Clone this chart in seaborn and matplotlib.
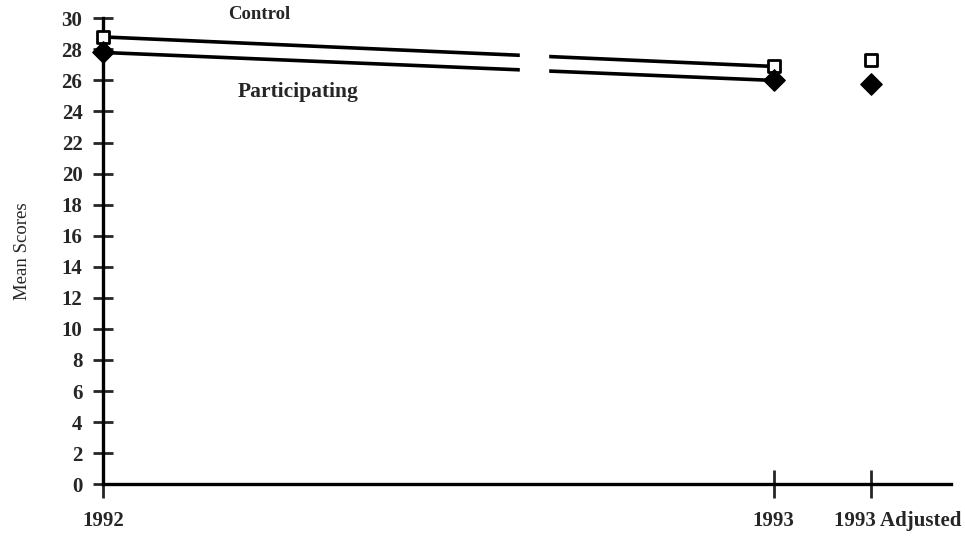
import seaborn as sns
import matplotlib.pyplot as plt
import matplotlib.transforms as mtransforms
import pandas as pd

years = ["1992", "1993", "1993 Adjusted"]
control = [28.8, 26.9, 27.3]
participating = [27.8, 26.0, 25.8]

# horizontal placement of the three time points (not evenly spaced in original)
xpos = [0, 1, 1.145]

df = pd.DataFrame({
    "x": xpos * 2,
    "score": control + participating,
    "group": ["Control"] * 3 + ["Participating"] * 3,
    "year": years * 2,
})
lines = df[df["year"] != "1993 Adjusted"]

sns.set_style("white")
plt.rcParams["font.family"] = ["Liberation Serif", "DejaVu Serif"]

fig = plt.figure(figsize=(9.65, 5.38), dpi=100)
ax = fig.add_axes([0.107, 0.1, 0.878, 0.866])

sns.lineplot(data=lines, x="x", y="score", hue="group",
             palette=["black", "black"], linewidth=2.6, legend=False, ax=ax)
# break in the lines
ax.axvspan(0.621, 0.664, ymin=0.5, color="white", zorder=3)

ctrl = df[df["group"] == "Control"]
part = df[df["group"] == "Participating"]
sns.scatterplot(data=ctrl, x="x", y="score", marker="s", s=75,
                facecolor="white", edgecolor="black", linewidth=2,
                legend=False, ax=ax, zorder=4, clip_on=False)
sns.scatterplot(data=part, x="x", y="score", marker="D", s=120,
                color="black", edgecolor="black", legend=False, ax=ax,
                zorder=4, clip_on=False)

ax.set_xlim(0, 1.264)
ax.set_ylim(0, 30)
ax.set_yticks(range(0, 31, 2))
ax.set_xticks(xpos)
ax.set_xticklabels(years)
ax.set_xlabel("")
ax.set_ylabel("Mean Scores", fontsize=13.5, labelpad=22)

for s in ["top", "right"]:
    ax.spines[s].set_visible(False)
for s in ["left", "bottom"]:
    ax.spines[s].set_linewidth(2.4)
    ax.spines[s].set_color("black")

ax.tick_params(axis="y", direction="inout", length=14, width=2,
               labelsize=15, pad=8, left=True)
ax.tick_params(axis="x", direction="inout", length=20, width=2,
               labelsize=15, pad=9, bottom=True)
for lab in ax.get_yticklabels() + ax.get_xticklabels():
    lab.set_fontweight("bold")
# shift the last label to the right like the original
last = ax.get_xticklabels()[-1]
last.set_transform(last.get_transform() +
                   mtransforms.ScaledTranslation(0.27, 0, fig.dpi_scale_trans))

ax.text(0.232, 29.95, "Control", fontsize=13.5, fontweight="bold", ha="center")
ax.text(0.29, 24.9, "Participating", fontsize=15.5, fontweight="bold", ha="center")

fig.savefig("out.png", dpi=100)
